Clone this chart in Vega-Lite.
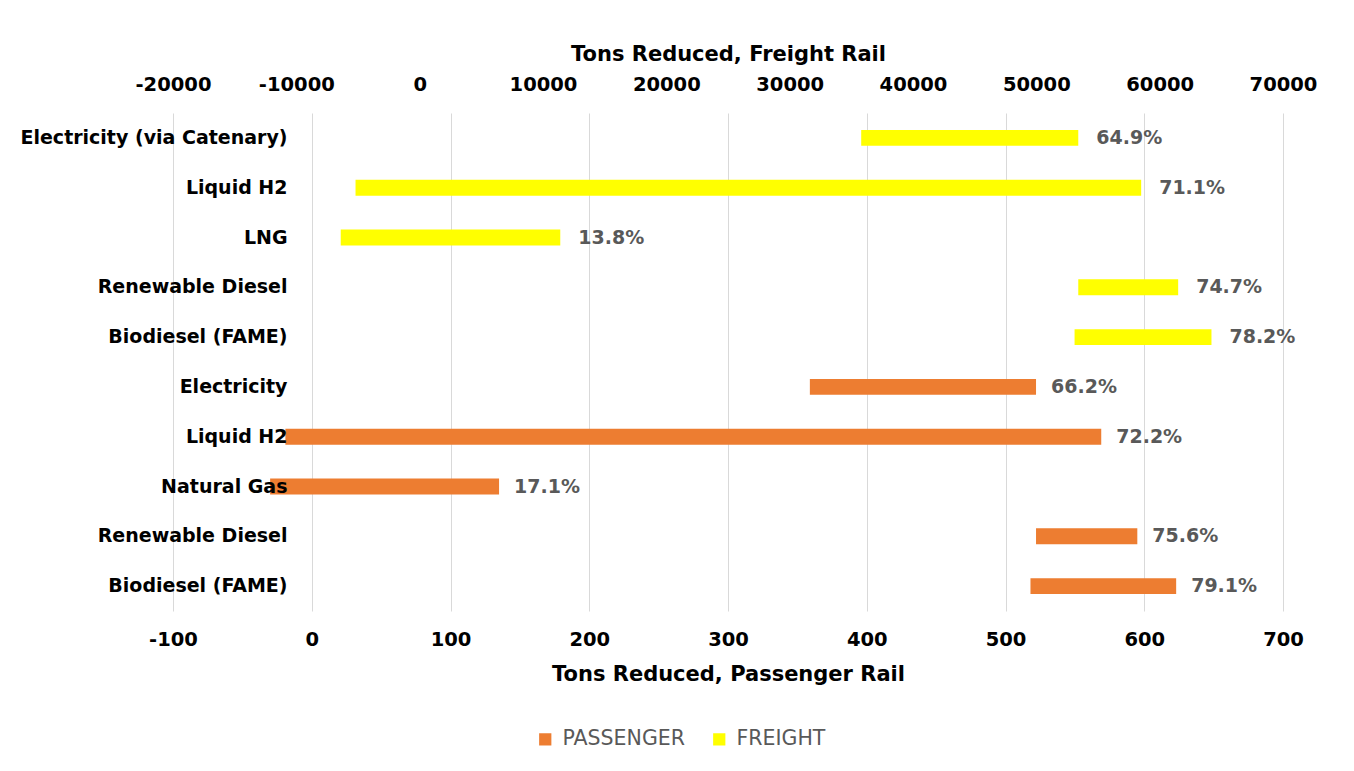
{
  "$schema": "https://vega.github.io/schema/vega-lite/v6.json",
  "width": 1110,
  "height": 498,
  "autosize": "none",
  "padding": {"left": 173, "top": 113, "right": 71, "bottom": 160},
  "background": "white",
  "config": {
    "view": {"stroke": null},
    "font": "DejaVu Sans"
  },
  "data": {
    "values": [
      {"key": "F1|Electricity (via Catenary)", "mode": "FREIGHT", "start": 35800, "end": 53400, "pct": "64.9%"},
      {"key": "F2|Liquid H2", "mode": "FREIGHT", "start": -5200, "end": 58500, "pct": "71.1%"},
      {"key": "F3|LNG", "mode": "FREIGHT", "start": -6400, "end": 11400, "pct": "13.8%"},
      {"key": "F4|Renewable Diesel", "mode": "FREIGHT", "start": 53400, "end": 61500, "pct": "74.7%"},
      {"key": "F5|Biodiesel (FAME)", "mode": "FREIGHT", "start": 53100, "end": 64200, "pct": "78.2%"},
      {"key": "P1|Electricity", "mode": "PASSENGER", "start": 359, "end": 522, "pct": "66.2%"},
      {"key": "P2|Liquid H2", "mode": "PASSENGER", "start": -19, "end": 569, "pct": "72.2%"},
      {"key": "P3|Natural Gas", "mode": "PASSENGER", "start": -30, "end": 135, "pct": "17.1%"},
      {"key": "P4|Renewable Diesel", "mode": "PASSENGER", "start": 522, "end": 595, "pct": "75.6%"},
      {"key": "P5|Biodiesel (FAME)", "mode": "PASSENGER", "start": 518, "end": 623, "pct": "79.1%"}
    ]
  },
  "encoding": {
    "y": {
      "field": "key",
      "type": "nominal",
      "sort": [
        "F1|Electricity (via Catenary)", "F2|Liquid H2", "F3|LNG", "F4|Renewable Diesel", "F5|Biodiesel (FAME)",
        "P1|Electricity", "P2|Liquid H2", "P3|Natural Gas", "P4|Renewable Diesel", "P5|Biodiesel (FAME)"
      ],
      "scale": {"paddingInner": 0.68, "paddingOuter": 0.34},
      "axis": {
        "title": null,
        "orient": "left",
        "offset": -139,
        "zindex": 1,
        "domain": false,
        "ticks": false,
        "grid": false,
        "labelPadding": 25,
        "labelLimit": 500,
        "labelExpr": "split(datum.value, '|')[1]",
        "labelFont": "DejaVu Sans",
        "labelFontWeight": "bold",
        "labelFontSize": 19,
        "labelColor": "#000000"
      }
    }
  },
  "layer": [
    {
      "transform": [{"filter": "datum.mode === 'PASSENGER'"}],
      "encoding": {
        "x": {
          "field": "start",
          "type": "quantitative",
          "scale": {"domain": [-100, 700], "nice": false, "zero": false},
          "axis": {
            "orient": "bottom",
            "title": "Tons Reduced, Passenger Rail",
            "values": [-100, 0, 100, 200, 300, 400, 500, 600, 700],
            "labelExpr": "datum.value + ''",
            "labelFlush": false,
            "labelOverlap": false,
            "domain": false,
            "ticks": false,
            "grid": true,
            "gridColor": "#d9d9d9",
            "gridWidth": 1,
            "labelPadding": 19,
            "labelFontWeight": "bold",
            "labelFontSize": 19.5,
            "labelColor": "#000000",
            "titleFontWeight": "bold",
            "titleFontSize": 21,
            "titleColor": "#000000",
            "titlePadding": 15
          }
        }
      },
      "layer": [
        {
          "mark": {"type": "bar"},
          "encoding": {
            "x2": {"field": "end"},
            "color": {
              "field": "mode",
              "type": "nominal",
              "scale": {"domain": ["PASSENGER", "FREIGHT"], "range": ["#ED7D31", "#FFFF00"]},
              "legend": {
                "title": null,
                "orient": "none",
                "direction": "horizontal",
                "legendX": 362,
                "legendY": 616,
                "symbolType": "square",
                "symbolSize": 150,
                "symbolStrokeWidth": 0,
                "labelFont": "DejaVu Sans",
                "labelFontSize": 20.5,
                "labelColor": "#595959",
                "columnPadding": 24,
                "labelOffset": 7
              }
            }
          }
        },
        {
          "mark": {"type": "text", "align": "left", "baseline": "middle", "dx": 15, "fontWeight": "bold", "fontSize": 19, "color": "#595959"},
          "encoding": {
            "x": {"field": "end", "type": "quantitative"},
            "text": {"field": "pct"}
          }
        }
      ]
    },
    {
      "transform": [{"filter": "datum.mode === 'FREIGHT'"}],
      "encoding": {
        "x": {
          "field": "start",
          "type": "quantitative",
          "scale": {"domain": [-20000, 70000], "nice": false, "zero": false},
          "axis": {
            "orient": "top",
            "title": "Tons Reduced, Freight Rail",
            "values": [-20000, -10000, 0, 10000, 20000, 30000, 40000, 50000, 60000, 70000],
            "labelExpr": "datum.value + ''",
            "labelFlush": false,
            "labelOverlap": false,
            "domain": false,
            "ticks": false,
            "grid": false,
            "labelPadding": 19,
            "labelFontWeight": "bold",
            "labelFontSize": 19.5,
            "labelColor": "#000000",
            "titleFontWeight": "bold",
            "titleFontSize": 21,
            "titleColor": "#000000",
            "titlePadding": 10
          }
        }
      },
      "layer": [
        {
          "mark": {"type": "bar"},
          "encoding": {
            "x2": {"field": "end"},
            "color": {"field": "mode", "type": "nominal"}
          }
        },
        {
          "mark": {"type": "text", "align": "left", "baseline": "middle", "dx": 18, "fontWeight": "bold", "fontSize": 19, "color": "#595959"},
          "encoding": {
            "x": {"field": "end", "type": "quantitative"},
            "text": {"field": "pct"}
          }
        }
      ]
    }
  ],
  "resolve": {"scale": {"x": "independent"}}
}
